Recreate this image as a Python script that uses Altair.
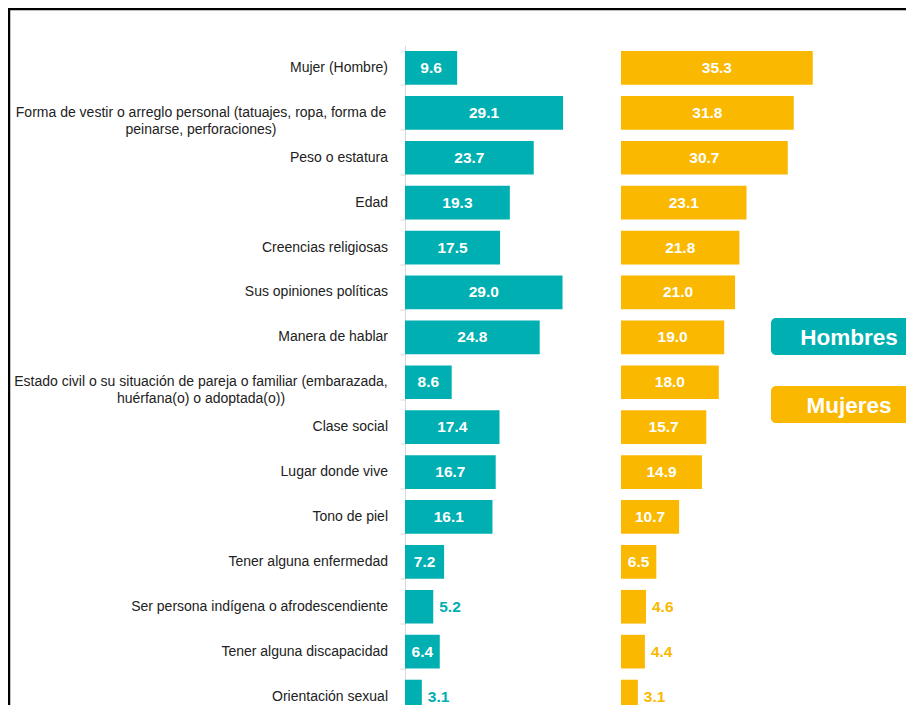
import altair as alt
import pandas as pd

categories = [
    "Mujer (Hombre)",
    "Forma de vestir o arreglo personal (tatuajes, ropa, forma de|peinarse, perforaciones)",
    "Peso o estatura",
    "Edad",
    "Creencias religiosas",
    "Sus opiniones políticas",
    "Manera de hablar",
    "Estado civil o su situación de pareja o familiar (embarazada,|huérfana(o) o adoptada(o))",
    "Clase social",
    "Lugar donde vive",
    "Tono de piel",
    "Tener alguna enfermedad",
    "Ser persona indígena o afrodescendiente",
    "Tener alguna discapacidad",
    "Orientación sexual",
]
hombres = [9.6, 29.1, 23.7, 19.3, 17.5, 29.0, 24.8, 8.6, 17.4, 16.7, 16.1, 7.2, 5.2, 6.4, 3.1]
mujeres = [35.3, 31.8, 30.7, 23.1, 21.8, 21.0, 19.0, 18.0, 15.7, 14.9, 10.7, 6.5, 4.6, 4.4, 3.1]
series_names = ["Hombres", "Mujeres"]

TEAL = "#00AFB2"
GOLD = "#FAB800"
FONT = "Liberation Sans, Arial, sans-serif"

df = pd.DataFrame({"cat": categories, "h": hombres, "m": mujeres})
df["h_in"] = df["h"] >= 6
df["m_in"] = df["m"] >= 6
df["multi"] = df["cat"].str.contains("|", regex=False)

W = 520
H = 673.5
PX = 5.432  # px per unit, shared by both panels
xh_dom = [0, W / PX]
m_off = 216 / PX
xm_dom = [-m_off, W / PX - m_off]

y_enc = alt.Y(
    "cat:N",
    sort=categories,
    scale=alt.Scale(paddingInner=0.25, paddingOuter=0.125),
    axis=alt.Axis(
        title=None,
        labels=False,
        domainColor="#d9d9d9",
        tickColor="#d9d9d9",
        tickSize=5,
        tickBand="extent",
        grid=False,
    ),
)
y_plain = alt.Y("cat:N", sort=categories)

base = alt.Chart(df)

bars_h = base.mark_bar(color=TEAL).encode(
    x=alt.X("zero_h:Q", scale=alt.Scale(domain=xh_dom), axis=None), x2="h:Q", y=y_enc
).transform_calculate(zero_h="0")

txt_h_in = base.mark_text(
    color="white", font=FONT, fontSize=15.5, fontWeight="bold"
).encode(x=alt.X("mid:Q", scale=alt.Scale(domain=xh_dom), axis=None), y=y_plain,
         text=alt.Text("h:Q", format=".1f")
).transform_filter("datum.h_in").transform_calculate(mid="datum.h/2")

txt_h_out = base.mark_text(
    color=TEAL, font=FONT, fontSize=15.5, fontWeight="bold", align="left", dx=6
).encode(x=alt.X("h:Q", scale=alt.Scale(domain=xh_dom), axis=None), y=y_plain,
         text=alt.Text("h:Q", format=".1f")
).transform_filter("!datum.h_in")

bars_m = base.mark_bar(color=GOLD).encode(
    x=alt.X("zero_m:Q", scale=alt.Scale(domain=xm_dom), axis=None), x2="m:Q", y=y_plain
).transform_calculate(zero_m="0")

txt_m_in = base.mark_text(
    color="white", font=FONT, fontSize=15.5, fontWeight="bold"
).encode(x=alt.X("mid:Q", scale=alt.Scale(domain=xm_dom), axis=None), y=y_plain,
         text=alt.Text("m:Q", format=".1f")
).transform_filter("datum.m_in").transform_calculate(mid="datum.m/2")

txt_m_out = base.mark_text(
    color=GOLD, font=FONT, fontSize=15.5, fontWeight="bold", align="left", dx=6
).encode(x=alt.X("m:Q", scale=alt.Scale(domain=xm_dom), axis=None), y=y_plain,
         text=alt.Text("m:Q", format=".1f")
).transform_filter("!datum.m_in")

# category labels (single-line right aligned, two-line centred block)
lab_single = base.mark_text(
    font=FONT, fontSize=14, color="#222222", align="right", baseline="middle"
).encode(x=alt.value(-17), y=y_plain, text="cat:N").transform_filter("!datum.multi")

lab_multi = base.mark_text(
    font=FONT, fontSize=14, color="#222222", align="center", baseline="middle",
    lineBreak="|", lineHeight=17
).encode(x=alt.value(-204), y=y_plain, text="cat:N").transform_filter("datum.multi")

# legend boxes
leg_h = pd.DataFrame({"name": [series_names[0]]})
leg_m = pd.DataFrame({"name": [series_names[1]]})

def legend_box(d, color, y0, y1):
    rect = alt.Chart(d).mark_rect(cornerRadius=5, color=color).encode(
        x=alt.value(366), x2=alt.value(560), y=alt.value(y0), y2=alt.value(y1)
    )
    txt = alt.Chart(d).mark_text(color="white", font=FONT, fontSize=22.5, fontWeight="bold",
                                 baseline="middle").encode(
        x=alt.value(444), y=alt.value((y0 + y1) / 2 + 1), text="name:N"
    )
    return rect, txt

lr_h, lt_h = legend_box(leg_h, TEAL, 272.5, 309.5)
lr_m, lt_m = legend_box(leg_m, GOLD, 340.5, 377.5)

one = pd.DataFrame({"a": [0]})
frame_left = alt.Chart(one).mark_rule(color="black", strokeWidth=2.5).encode(
    x=alt.value(-396), y=alt.value(-37.5), y2=alt.value(H)
)
frame_top = alt.Chart(one).mark_rule(color="black", strokeWidth=2.5).encode(
    x=alt.value(-397), x2=alt.value(W + 20), y=alt.value(-36.5)
)

chart = alt.layer(
    bars_h, txt_h_in, txt_h_out, bars_m, txt_m_in, txt_m_out, lab_single, lab_multi,
    lr_h, lt_h, lr_m, lt_m, frame_left, frame_top
).resolve_scale(x="independent").properties(
    width=W, height=H, autosize=alt.AutoSizeParams(type="none"),
    padding={"left": 397, "top": 37.5, "right": -19, "bottom": -14},
).configure(background="white").configure_view(strokeWidth=0)

chart.save("out.html", embed_options={"renderer": "svg", "actions": False})
